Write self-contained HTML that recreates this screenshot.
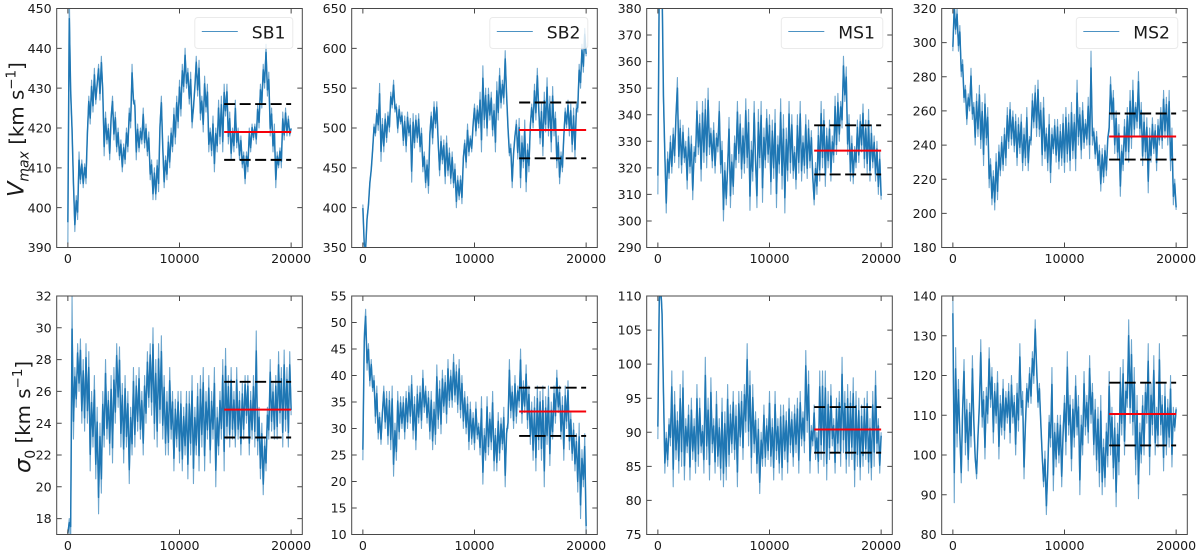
<!DOCTYPE html>
<html lang="en">
<head>
<meta charset="utf-8">
<title>MCMC traces of Vmax and sigma0</title>
<style>
html,body{margin:0;padding:0;background:#fff;width:1200px;height:556px;overflow:hidden}
svg{display:block;filter:blur(0.35px)}
text{font-family:"DejaVu Sans","Liberation Sans",sans-serif;fill:#1a1a1a}
</style>
</head>
<body>
<svg id="chart" xmlns="http://www.w3.org/2000/svg" width="1200" height="556" viewBox="0 0 1200 556">
  <text transform="translate(23.5 197) rotate(-90)" font-size="19.8"><tspan font-style="italic" font-size="22.5">V</tspan><tspan font-style="italic" font-size="14" dy="5">max</tspan><tspan dy="-5"> [km s</tspan><tspan font-size="13.5" dy="-8">−1</tspan><tspan dy="8">]</tspan></text>
  <text transform="translate(30 473) rotate(-90)" font-size="19.8"><tspan font-style="italic" font-size="22.5">σ</tspan><tspan font-size="14" dy="5">0</tspan><tspan dy="-5"> [km s</tspan><tspan font-size="13.5" dy="-8">−1</tspan><tspan dy="8">]</tspan></text>
</svg>
<script>
// Sampling interval of every trace (iterations between stored values)
const iterationStep = 125;
const xRange = [-1000, 21000];
const xTickLabels = [0, 10000, 20000];
const windowStart = 14000;
const windowEnd = 20000;

const vmaxSB1 = [
391,455,428,420,406,394,403,397,
414,406,412,405,411,406,419,428,
421,432,424,435,426,431,436,427,
438,430,413,424,416,421,412,423,
428,417,424,414,420,412,417,409,
416,411,420,414,425,420,436,426,
427,412,421,414,420,416,425,415,
421,413,419,407,412,402,410,402,
412,404,421,428,415,405,413,407,
418,410,420,414,425,416,428,420,
432,423,436,429,440,430,435,426,
434,420,425,430,438,428,437,422,
428,419,433,424,431,414,420,413,
423,409,420,414,427,416,428,414,
431,423,431,416,424,412,420,414,
427,415,420,412,418,410,414,406,
414,409,420,414,421,417,421,416,
426,420,431,425,436,430,441,428,
434,418,425,414,421,405,414,410,
415,410,424,417,425,418,423,418,
420];
const vmaxSB2 = [
404,350,345,388,402,432,447,472,
505,490,523,497,556,458,512,470,
518,482,520,495,545,525,560,520,
530,494,528,505,520,478,515,470,
520,490,512,432,518,475,516,482,
518,470,500,445,470,425,460,418,
495,520,480,533,500,533,480,440,
490,455,485,430,490,440,475,430,
470,425,455,400,440,410,440,405,
465,485,450,505,465,490,470,505,
530,490,528,500,545,470,578,500,
550,490,550,510,545,490,530,470,
558,510,575,525,560,530,597,540,
500,465,480,425,470,490,510,461,
512,425,490,450,510,420,480,445,
505,530,500,555,510,575,525,480,
530,465,545,495,563,490,540,470,
552,490,520,450,490,430,470,445,
490,525,500,535,490,530,470,525,
462,530,520,580,550,605,570,625,
590];
const vmaxMS1 = [
310,395,400,392,345,325,303,326,
316,332,318,335,322,340,354,320,
338,318,336,322,330,312,335,318,
332,308,328,322,345,325,340,315,
345,322,346,320,350,325,335,320,
337,318,333,326,345,318,330,300,
322,306,320,339,305,325,310,332,
320,345,322,340,316,335,318,346,
320,342,304,330,315,345,322,305,
342,320,345,307,335,320,342,322,
340,310,338,316,342,305,332,318,
346,312,340,303,335,315,345,318,
340,316,328,312,340,318,345,315,
332,318,340,316,338,320,334,316,
306,322,310,336,315,345,320,342,
313,335,320,338,315,332,322,347,
325,348,330,345,335,362,345,358,
325,340,315,332,314,328,320,338,
322,340,326,344,320,338,318,342,
315,336,320,332,315,330,310,326,
308];
const vmaxMS2 = [
295,325,305,320,295,310,280,290,
265,275,252,270,260,285,255,265,
240,270,245,275,238,265,228,270,
240,262,215,232,205,225,202,235,
208,240,222,245,225,250,228,262,
238,265,240,260,236,258,228,256,
235,258,225,250,228,262,225,245,
240,270,250,275,245,278,245,265,
228,268,232,250,225,258,218,250,
235,255,230,255,226,252,228,258,
224,262,230,258,225,265,232,258,
225,278,240,262,232,265,238,255,
240,268,232,295,240,250,232,248,
225,240,213,238,218,240,222,245,
248,280,255,272,235,260,232,252,
210,240,225,255,232,262,230,272,
238,278,245,265,250,283,245,265,
228,258,232,256,212,250,230,256,
235,252,225,255,240,262,238,272,
244,268,240,272,225,250,205,220,
202];
const sigmaSB1 = [
17,18,16,32,23,27.5,25,29,
26,29.3,24,28,23.5,29,24,28.5,
21,26,22.5,27,20.5,25,18.3,24,
19.6,26,22.5,28,23,26,22,27,
21.5,27.5,24,29,25,28.8,22.5,26.5,
21.5,27,22.5,26,20.2,25,22,27.5,
22.5,27,23.5,27.5,23,26,22,27,
24,28.5,25,29,24.5,30,23,28,
22.5,29,24,29.5,23,27,22,26,
22,27.5,23,26,21,25.5,22.5,26,
21.5,26,21,25,22,26,20.5,26,
22,27,20.2,25,22,26.5,21,27,
22.5,27.5,21,26,23,27,21.5,26,
23,27.5,20,25,22,26,23,28,
21,28.7,23,27,22.5,27.5,23,26,
22.5,27.5,23,26,22,26.5,23,27,
24,27,22,26,23,27,22.5,29.8,
22,25,20.5,24,19.5,23,21,25,
23,28,23.5,26.5,23,27,23,28.5,
24,27.5,22.5,28.6,23.5,27.5,22.5,28.5,
24.5];
const sigmaSB2 = [
24,48,52.5,41,46,38,43,37,
40,31,38,28,33,27,33,38,
30,37,27,37,26,38,21,31,
24,37,28,36,30,36,28,37,
30,38,31,40,28,36,26,38,
31,38,30,41,33,38,31,37,
28,37,26,35,27,42,30,39,
29,41,33,40,31,43,34,41,
34,44,35,42,33,43,32,40,
30,37,29,36,26,35,27,33,
26,35,28,31,25,36,19.5,30,
24,36,25,33,26,37,22,30,
22,33,24,32,26,34,19,30,
30,43,32,38,30,40,31,38,
34,45,31,39,33,42,30,38,
27,35,24,36,22,38,26,37,
24,38,19,36,27,38,23,35,
28,38,31,41,33,38,28,36,
24,38,30,39,26,33,24,31,
22,29,18,31,13,26,19,29,
10];
const sigmaMS1 = [
89,111,112,108,96,84,90,85,
92,88,99,82,96,86,93,84,
97,85,99,83,92,87,94,83,
95,86,92,84,97,85,95,87,
91,84,101,86,95,83,98,87,
92,84,96,85,92,83,95,82,
93,83,97,85,94,87,96,86,
94,82,96,88,96,86,97,90,
103,88,99,84,97,87,93,84,
92,81,90,85,94,85,92,86,
96,85,92,83,96,86,92,84,
94,83,94,86,93,84,95,87,
93,85,94,87,95,84,96,88,
93,87,102,90,99,84,91,88,
94,86,90,84,99,86,99,85,
99,83,96,86,97,88,92,84,
95,87,96,85,101,87,96,84,
97,85,96,86,98,82,96,85,
95,83,94,85,95,86,96,84,
92,83,96,85,99,87,92,84,
90];
const sigmaMS2 = [
140,88,127,102,119,105,93,112,
124,100,114,96,113,102,125,108,
99,94,105,112,129,107,116,99,
117,108,127,112,122,103,118,108,
121,99,115,105,119,104,116,108,
118,103,120,108,115,100,118,106,
128,110,116,94,108,118,112,122,
113,126,118,134,122,112,118,108,
100,92,101,85,96,110,102,122,
91,108,97,110,98,110,92,106,
115,100,126,105,115,96,114,102,
120,105,115,90,110,100,121,105,
115,103,125,108,118,100,114,96,
112,92,115,90,104,92,108,97,
121,100,112,94,110,87,108,95,
122,105,124,100,118,112,134,108,
129,105,122,95,115,89,108,98,
115,100,118,108,128,95,118,105,
125,100,112,102,128,105,115,96,
118,100,114,102,120,97,112,106,
112];

// Y-axis limits, tick labels and [lower, mean, upper] statistics per panel
const vmaxSB1Range = [390, 450];
const vmaxSB1Ticks = [390,400,410,420,430,440,450];
const vmaxSB1Stats = [412, 419, 426];
const vmaxSB2Range = [350, 650];
const vmaxSB2Ticks = [350,400,450,500,550,600,650];
const vmaxSB2Stats = [462, 497.5, 532];
const vmaxMS1Range = [290, 380];
const vmaxMS1Ticks = [290,300,310,320,330,340,350,360,370,380];
const vmaxMS1Stats = [317.5, 326.5, 336];
const vmaxMS2Range = [180, 320];
const vmaxMS2Ticks = [180,200,220,240,260,280,300,320];
const vmaxMS2Stats = [231.5, 245, 258.5];
const sigmaSB1Range = [17, 32];
const sigmaSB1Ticks = [18,20,22,24,26,28,30,32];
const sigmaSB1Stats = [23.1, 24.85, 26.6];
const sigmaSB2Range = [10, 55];
const sigmaSB2Ticks = [10,15,20,25,30,35,40,45,50,55];
const sigmaSB2Stats = [28.6, 33.2, 37.7];
const sigmaMS1Range = [75, 110];
const sigmaMS1Ticks = [75,80,85,90,95,100,105,110];
const sigmaMS1Stats = [87, 90.4, 93.7];
const sigmaMS2Range = [80, 140];
const sigmaMS2Ticks = [80,90,100,110,120,130,140];
const sigmaMS2Stats = [102.4, 110.3, 118.2];

const svg = document.getElementById('chart');
const NS = 'http://www.w3.org/2000/svg';
const SPINE = '#484848';
const panelWidth = 245.6;
const rowFrames = [{top: 8.5, bottom: 247.5}, {top: 296, bottom: 534.5}];
const columnLefts = [56.7, 351.7, 646.7, 941.7];
const legendWidths = [98, 98, 101.5, 101.5];

function make(tag, attrs, parent) {
  const el = document.createElementNS(NS, tag);
  for (const k in attrs) el.setAttribute(k, attrs[k]);
  parent.appendChild(el);
  return el;
}

// The trace's dense core: each sample pulled toward its local three-point mean.
function densify(values) {
  return values.map((v, i) => {
    const a = values[Math.max(0, i - 1)], b = values[Math.min(values.length - 1, i + 1)];
    const local = (a + v + b) / 3;
    return local + (v - local) * 0.75;
  });
}

function drawPanel(cfg) {
  const left = columnLefts[cfg.col], right = left + panelWidth;
  const top = rowFrames[cfg.row].top, bottom = rowFrames[cfg.row].bottom;
  const xScale = v => left + (v - xRange[0]) / (xRange[1] - xRange[0]) * panelWidth;
  const yScale = v => bottom - (v - cfg.range[0]) / (cfg.range[1] - cfg.range[0]) * (bottom - top);
  const pathFrom = vals => vals.map((v, i) => (i ? 'L' : 'M') + xScale(i * iterationStep).toFixed(2) + ' ' + yScale(v).toFixed(2)).join('');

  const group = make('g', {}, svg);
  
  

  const clipId = 'clip-' + cfg.name;
  const defs = make('defs', {}, group);
  const clip = make('clipPath', {id: clipId}, defs);
  make('rect', {x: left, y: top, width: panelWidth, height: bottom - top}, clip);

  const trace = make('path', {d: pathFrom(cfg.values), fill: 'none', stroke: '#1f77b4', 'stroke-width': 1.1, 'stroke-opacity': 0.65, 'stroke-linejoin': 'round', 'clip-path': 'url(#' + clipId + ')'}, group);
  
  

  const core = make('path', {d: pathFrom(densify(cfg.values)), fill: 'none', stroke: '#1f77b4', 'stroke-width': 1.5, 'stroke-linejoin': 'round', 'clip-path': 'url(#' + clipId + ')'}, group);
  
  

  const lower = make('line', {x1: xScale(windowStart), x2: xScale(windowEnd), y1: yScale(cfg.stats[0]), y2: yScale(cfg.stats[0]), stroke: '#000', 'stroke-width': 1.9, 'stroke-dasharray': '11 4.5'}, group);
  
  

  const upper = make('line', {x1: xScale(windowStart), x2: xScale(windowEnd), y1: yScale(cfg.stats[2]), y2: yScale(cfg.stats[2]), stroke: '#000', 'stroke-width': 1.9, 'stroke-dasharray': '11 4.5'}, group);
  
  

  const mean = make('line', {x1: xScale(windowStart), x2: xScale(windowEnd), y1: yScale(cfg.stats[1]), y2: yScale(cfg.stats[1]), stroke: '#f5000a', 'stroke-width': 2}, group);
  
  

  const frame = make('rect', {x: left, y: top, width: panelWidth, height: bottom - top, fill: 'none', stroke: SPINE, 'stroke-width': 1}, group);
  
  

  xTickLabels.forEach(v => {
    const x = xScale(v);
    const tickPath = make('path', {d: 'M' + x + ' ' + bottom + 'v-5M' + x + ' ' + top + 'v5', stroke: SPINE, 'stroke-width': 1, fill: 'none'}, group);
    
    
    const label = make('text', {x: x, y: bottom + 15.5, 'text-anchor': 'middle', 'font-size': 12.6}, group);
    
    
    label.textContent = v;
  });

  cfg.ticks.forEach(v => {
    const y = yScale(v);
    const tickPath = make('path', {d: 'M' + left + ' ' + y + 'h5M' + right + ' ' + y + 'h-5', stroke: SPINE, 'stroke-width': 1, fill: 'none'}, group);
    
    
    const label = make('text', {x: left - 5, y: y + 4.6, 'text-anchor': 'end', 'font-size': 12.6}, group);
    
    
    label.textContent = v;
  });

  if (cfg.legend) {
    const w = legendWidths[cfg.col];
    const lx = right - 9.5 - w;
    const legend = make('g', {}, group);
    
    
    make('rect', {x: lx, y: 17.5, width: w, height: 31, rx: 3, fill: 'rgba(255,255,255,0.8)', stroke: 'rgba(225,225,225,0.7)', 'stroke-width': 1}, legend);
    make('line', {x1: lx + 7, x2: lx + 43, y1: 31.5, y2: 31.5, stroke: '#1f77b4', 'stroke-width': 1.1, 'stroke-opacity': 0.8}, legend);
    const text = make('text', {x: lx + 57, y: 38.5, 'font-size': 17.2, fill: '#000'}, legend);
    
    
    text.textContent = cfg.legend;
  }
}

drawPanel({name: 'vmax-sb1', row: 0, col: 0, values: vmaxSB1, range: vmaxSB1Range, ticks: vmaxSB1Ticks, stats: vmaxSB1Stats, legend: 'SB1'});
drawPanel({name: 'vmax-sb2', row: 0, col: 1, values: vmaxSB2, range: vmaxSB2Range, ticks: vmaxSB2Ticks, stats: vmaxSB2Stats, legend: 'SB2'});
drawPanel({name: 'vmax-ms1', row: 0, col: 2, values: vmaxMS1, range: vmaxMS1Range, ticks: vmaxMS1Ticks, stats: vmaxMS1Stats, legend: 'MS1'});
drawPanel({name: 'vmax-ms2', row: 0, col: 3, values: vmaxMS2, range: vmaxMS2Range, ticks: vmaxMS2Ticks, stats: vmaxMS2Stats, legend: 'MS2'});
drawPanel({name: 'sigma-sb1', row: 1, col: 0, values: sigmaSB1, range: sigmaSB1Range, ticks: sigmaSB1Ticks, stats: sigmaSB1Stats});
drawPanel({name: 'sigma-sb2', row: 1, col: 1, values: sigmaSB2, range: sigmaSB2Range, ticks: sigmaSB2Ticks, stats: sigmaSB2Stats});
drawPanel({name: 'sigma-ms1', row: 1, col: 2, values: sigmaMS1, range: sigmaMS1Range, ticks: sigmaMS1Ticks, stats: sigmaMS1Stats});
drawPanel({name: 'sigma-ms2', row: 1, col: 3, values: sigmaMS2, range: sigmaMS2Range, ticks: sigmaMS2Ticks, stats: sigmaMS2Stats});
</script>
</body>
</html>
